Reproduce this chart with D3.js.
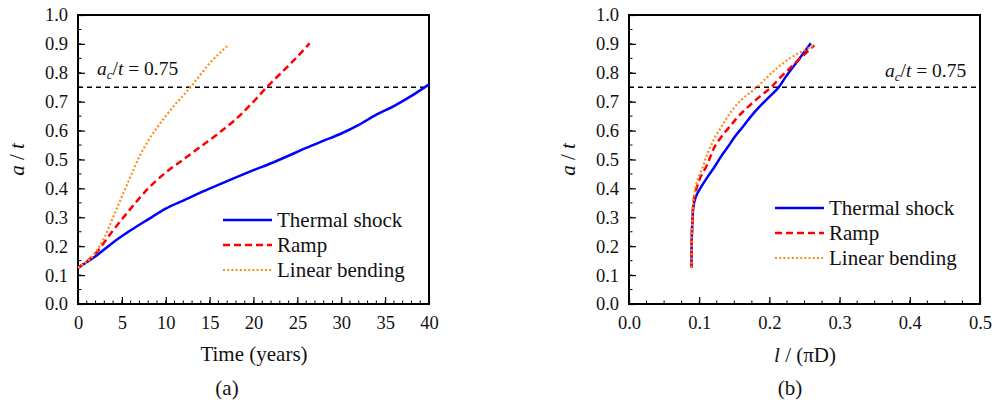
<!DOCTYPE html>
<html><head><meta charset="utf-8">
<script src="https://cdn.jsdelivr.net/npm/d3@7"></script>
<style>body{margin:0;background:#fff}svg, svg text{font-family:"Liberation Serif","Times New Roman",Times,"DejaVu Serif",serif !important}</style>
</head><body><svg id="c" width="997" height="403"></svg>
<script>
// Panel (a): time (years) vs a/t
const thermalTime = [0,2,4,6,8,10,12,14,16,18,20,22,24,26,28,30,32,34,36,38,40];
const thermalA    = [0.125,0.165,0.213,0.255,0.293,0.33,0.358,0.386,0.412,0.438,0.463,0.487,0.513,0.54,0.565,0.59,0.62,0.655,0.685,0.72,0.76];
const rampTime = [0,2,4,6,8,10,12,14,16,18,20,21.5,23,24.5,26.4];
const rampA    = [0.125,0.175,0.255,0.33,0.4,0.455,0.5,0.545,0.59,0.64,0.7,0.75,0.795,0.84,0.902];
const bendTime = [0,1.5,3,4,5,6,7,8,9,10,11,12,13,14,15,16,17];
const bendA    = [0.125,0.16,0.23,0.3,0.372,0.442,0.51,0.565,0.61,0.65,0.688,0.722,0.757,0.795,0.833,0.864,0.892];
// Panel (b): l/(piD) vs a/t
const thermalL  = [0.089,0.0892,0.0902,0.0918,0.095,0.103,0.112,0.122,0.131,0.141,0.151,0.1625,0.174,0.186,0.199,0.212,0.223,0.234,0.246,0.259];
const thermalA2 = [0.125,0.2,0.28,0.337,0.37,0.406,0.44,0.475,0.51,0.544,0.58,0.614,0.65,0.683,0.715,0.746,0.785,0.821,0.86,0.902];
const rampL  = [0.089,0.0892,0.0902,0.0913,0.093,0.097,0.102,0.11,0.116,0.122,0.132,0.1436,0.156,0.17,0.185,0.2006,0.216,0.2315,0.246,0.264];
const rampA2 = [0.125,0.2,0.28,0.337,0.37,0.406,0.44,0.475,0.51,0.544,0.58,0.614,0.65,0.683,0.715,0.746,0.785,0.821,0.855,0.895];
const bendL  = [0.089,0.0891,0.09,0.0912,0.0925,0.095,0.099,0.1055,0.11,0.116,0.123,0.132,0.141,0.151,0.164,0.18,0.197,0.213,0.236,0.265];
const bendA2 = [0.125,0.2,0.28,0.337,0.37,0.406,0.44,0.475,0.51,0.544,0.58,0.614,0.65,0.683,0.715,0.746,0.785,0.821,0.86,0.896];
const yTicks = [0,0.1,0.2,0.3,0.4,0.5,0.6,0.7,0.8,0.9,1.0];
const xTicksA = [0,5,10,15,20,25,30,35,40];
const xTicksB = [0,0.1,0.2,0.3,0.4,0.5];
const seriesNames = ["Thermal shock","Ramp","Linear bending"];
const criticalA = 0.75;

const FONT = '"Liberation Serif","Times New Roman",Times,"DejaVu Serif",serif';
const svg = d3.select("#c").attr("font-family", FONT);
const plotTop = 15, plotBottom = 304;
const styles = [
  {color:"#0000ff", width:2.5, dash:null},
  {color:"#ff0000", width:2.5, dash:"7,4"},
  {color:"#ff8c1a", width:2.2, dash:"2,2.2"}
];

function panel(cfg){
  const g = svg.append("g");
  const x = d3.scaleLinear().domain(cfg.xDomain).range([cfg.left, cfg.right]);
  const y = d3.scaleLinear().domain([0,1]).range([plotBottom, plotTop]);
  const minorX = d3.range(cfg.xDomain[0], cfg.xDomain[1]+1e-9, cfg.minorX);
  const minorY = d3.range(0, 1+1e-9, 0.05);
  const ax = d3.axisBottom(x).tickValues(cfg.xTicks).tickSize(-7).tickPadding(12).tickFormat(cfg.fmt);
  const ay = d3.axisLeft(y).tickValues(yTicks).tickSize(-7).tickPadding(10).tickFormat(d3.format(".1f"));
  const gx = g.append("g").attr("transform",`translate(0,${plotBottom})`).call(ax);
  const gy = g.append("g").attr("transform",`translate(${cfg.left},0)`).call(ay);
  [gx,gy].forEach(a=>{
    a.attr("font-family", FONT);
    a.select(".domain").remove();
    a.selectAll("line").attr("stroke","#000").attr("stroke-width",1.2);
    a.selectAll("text").attr("font-size",18.5).attr("fill","#111");
  });
  gx.selectAll("text").attr("dy","0.71em");
  g.append("g").selectAll("line").data(minorX).join("line")
    .attr("x1",d=>x(d)).attr("x2",d=>x(d)).attr("y1",plotBottom).attr("y2",plotBottom-3.5)
    .attr("stroke","#000").attr("stroke-width",1);
  g.append("g").selectAll("line").data(minorY).join("line")
    .attr("x1",cfg.left).attr("x2",cfg.left+3.5).attr("y1",d=>y(d)).attr("y2",d=>y(d))
    .attr("stroke","#000").attr("stroke-width",1);
  g.append("rect").attr("x",cfg.left).attr("y",plotTop).attr("width",cfg.right-cfg.left).attr("height",plotBottom-plotTop)
    .attr("fill","none").attr("stroke","#000").attr("stroke-width",2);
  g.append("line").attr("x1",x(cfg.xDomain[0])).attr("x2",x(cfg.xDomain[1])).attr("y1",y(criticalA)).attr("y2",y(criticalA))
    .attr("stroke","#000").attr("stroke-width",1.6).attr("stroke-dasharray","5,4");
  const lineGen = d3.line().x(d=>x(d[0])).y(d=>y(d[1])).curve(cfg.curve);
  cfg.series.forEach((s,i)=>{
    const pts = s.xs.map((v,k)=>[v,s.ys[k]]);
    g.append("path").datum(pts).attr("d",lineGen).attr("fill","none")
      .attr("stroke",styles[i].color).attr("stroke-width",styles[i].width)
      .attr("stroke-dasharray",styles[i].dash);
  });
  const ann = g.append("text").attr("x",cfg.annX).attr("y",cfg.annY).attr("font-size",19.5).attr("fill","#111");
  ann.append("tspan").attr("font-style","italic").text("a");
  ann.append("tspan").attr("font-style","italic").attr("font-size",13).attr("dy",4).text("c");
  ann.append("tspan").attr("dy",-4).text("/");
  ann.append("tspan").attr("font-style","italic").text("t");
  ann.append("tspan").text(" = 0.75");
  seriesNames.forEach((n,i)=>{
    const ly = cfg.legY + i*25;
    g.append("line").attr("x1",cfg.legX).attr("x2",cfg.legX+49).attr("y1",ly).attr("y2",ly)
      .attr("stroke",styles[i].color).attr("stroke-width",styles[i].width).attr("stroke-dasharray",styles[i].dash);
    g.append("text").attr("x",cfg.legX+54).attr("y",ly+7).attr("font-size",21).attr("fill","#111").text(n);
  });
  const yl = g.append("text").attr("transform",`translate(${cfg.left-54},${(plotTop+plotBottom)/2}) rotate(-90)`)
    .attr("text-anchor","middle").attr("font-size",21).attr("fill","#111");
  yl.append("tspan").attr("font-style","italic").text("a");
  yl.append("tspan").text(" / ");
  yl.append("tspan").attr("font-style","italic").text("t");
  return {g,x,y};
}

const pa = panel({left:78,right:429,xDomain:[0,40],xTicks:xTicksA,minorX:1,fmt:d3.format("d"),curve:d3.curveMonotoneX,
  series:[{xs:thermalTime,ys:thermalA},{xs:rampTime,ys:rampA},{xs:bendTime,ys:bendA}],
  annX:97, annY:75, legX:223, legY:220});
pa.g.append("text").attr("x",254).attr("y",361).attr("text-anchor","middle").attr("font-size",21).attr("fill","#111").text("Time (years)");
pa.g.append("text").attr("x",227).attr("y",395).attr("text-anchor","middle").attr("font-size",21).attr("fill","#111").text("(a)");

const pb = panel({left:629,right:980,xDomain:[0,0.5],xTicks:xTicksB,minorX:0.025,fmt:d3.format(".1f"),curve:d3.curveMonotoneY,
  series:[{xs:thermalL,ys:thermalA2},{xs:rampL,ys:rampA2},{xs:bendL,ys:bendA2}],
  annX:885, annY:77, legX:775, legY:208});
const xl = pb.g.append("text").attr("x",805).attr("y",362).attr("text-anchor","middle").attr("font-size",21).attr("fill","#111");
xl.append("tspan").attr("font-style","italic").text("l");
xl.append("tspan").text(" / (πD)");
pb.g.append("text").attr("x",790).attr("y",395).attr("text-anchor","middle").attr("font-size",21).attr("fill","#111").text("(b)");
</script></body></html>
